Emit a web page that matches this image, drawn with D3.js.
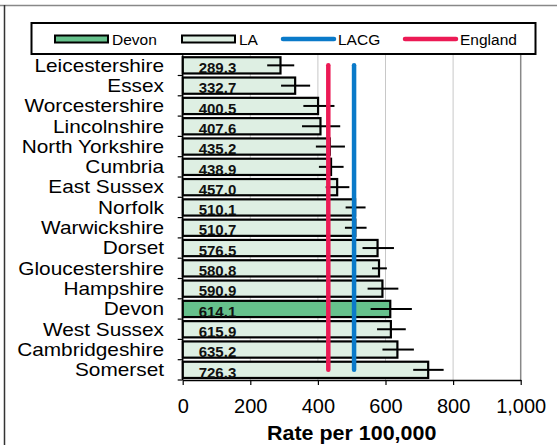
<!DOCTYPE html>
<html>
<head>
<meta charset="utf-8">
<script src="https://cdn.jsdelivr.net/npm/d3@7"></script>
<style>
  html, body { margin: 0; padding: 0; background: #fff; }
  svg { display: block; font-family: "Liberation Sans", Arial, sans-serif; }
</style>
</head>
<body>
<svg id="chart" width="557" height="445"></svg>
<script>
// ---- data ----
const categories = ["Leicestershire","Essex","Worcestershire","Lincolnshire","North Yorkshire","Cumbria","East Sussex","Norfolk","Warwickshire","Dorset","Gloucestershire","Hampshire","Devon","West Sussex","Cambridgeshire","Somerset"];
const values = [289.3,332.7,400.5,407.6,435.2,438.9,457.0,510.1,510.7,576.5,580.8,590.9,614.1,615.9,635.2,726.3];
const ciLower = [250,291,357,353,394,403,423,482,480,532,560,547,556,575,591,682];
const ciUpper = [330,377,449,466,480,476,493,541,544,625,604,638,678,660,684,772];
const highlight = "Devon";
const englandValue = 430.8;
const lacgValue = 507;
const xTicks = [0,200,400,600,800,1000];
const legendItems = ["Devon","LA","LACG","England"];
const xTitle = "Rate per 100,000";

// ---- styles ----
const colDevon = "#66c18c", colLA = "#deefe3", colLACG = "#0a7ac9", colEng = "#ec1a55";

const svg = d3.select("#chart");
const W = 557, H = 445;
const x = d3.scaleLinear().domain([0, 1000]).range([182.7, 520.7]);
const y = d3.scaleBand().domain(categories).range([55.2, 380]).padding(0);
const bw = y.bandwidth();
const barH = bw * 0.8;

// outer frame
svg.append("line").attr("x1", 0).attr("x2", W).attr("y1", 5.5).attr("y2", 5.5).attr("stroke", "#888").attr("stroke-width", 1.5);
svg.append("line").attr("x1", 4.5).attr("x2", 4.5).attr("y1", 5).attr("y2", H).attr("stroke", "#333").attr("stroke-width", 1.5);

// gridlines
svg.append("g").selectAll("line").data(xTicks.filter(t => t > 0 && t < 1000)).join("line")
  .attr("x1", d => x(d)).attr("x2", d => x(d)).attr("y1", 55).attr("y2", 380)
  .attr("stroke", "#c8c8c8").attr("stroke-width", 1);
// plot right border
svg.append("line").attr("x1", x(1000)).attr("x2", x(1000)).attr("y1", 55).attr("y2", 380)
  .attr("stroke", "#888").attr("stroke-width", 1.5);

// bars
const rows = categories.map((c, i) => ({ name: c, v: values[i], lo: ciLower[i], hi: ciUpper[i] }));
svg.append("g").selectAll("rect").data(rows).join("rect")
  .attr("x", x(0)).attr("y", d => y(d.name) + (bw - barH) / 2)
  .attr("width", d => x(d.v) - x(0)).attr("height", barH)
  .attr("fill", d => d.name === highlight ? colDevon : colLA)
  .attr("stroke", "#000").attr("stroke-width", 2.2);

// value labels
svg.append("g").selectAll("text").data(rows).join("text")
  .attr("x", x(0) + 16).attr("y", d => y(d.name) + bw - 2.5)
  .attr("font-size", 15).attr("font-weight", "bold").attr("fill", "#111")
  .text(d => d.v.toFixed(1));

// error bars
svg.append("g").selectAll("line").data(rows).join("line")
  .attr("x1", d => x(d.lo)).attr("x2", d => x(d.hi))
  .attr("y1", d => y(d.name) + bw / 2).attr("y2", d => y(d.name) + bw / 2)
  .attr("stroke", "#000").attr("stroke-width", 2);

// reference lines
const yFirst = y(categories[0]) + bw / 2, yLast = y(categories[categories.length - 1]) + bw / 2;
[[englandValue, colEng], [lacgValue, colLACG]].forEach(([v, c]) => {
  svg.append("line").attr("x1", x(v)).attr("x2", x(v)).attr("y1", yFirst).attr("y2", yLast)
    .attr("stroke", c).attr("stroke-width", 4.5).attr("stroke-linecap", "round");
});

// y axis
const yAxis = svg.append("g");
yAxis.append("line").attr("x1", x(0)).attr("x2", x(0)).attr("y1", 55.2).attr("y2", 380).attr("stroke", "#000").attr("stroke-width", 1.5);
yAxis.selectAll("line.tick").data(categories).join("line").attr("class", "tick")
  .attr("x1", x(0) - 5).attr("x2", x(0)).attr("y1", d => y(d) + bw).attr("y2", d => y(d) + bw)
  .attr("stroke", "#000").attr("stroke-width", 1.2);
yAxis.selectAll("text").data(categories).join("text")
  .attr("x", 164).attr("y", d => y(d) + bw / 2 + 6.3).attr("text-anchor", "end")
  .attr("font-size", 17.8).attr("fill", "#000").text(d => d)
  .each(function () {
    const len = this.getComputedTextLength();
    d3.select(this).attr("textLength", len * 1.17).attr("lengthAdjust", "spacingAndGlyphs");
  });

// x axis
const xAxis = svg.append("g").attr("transform", "translate(0,380)")
  .call(d3.axisBottom(x).tickValues(xTicks).tickFormat(d3.format(",")).tickSize(5).tickSizeOuter(0));
xAxis.select(".domain").attr("stroke", "#000").attr("stroke-width", 1.5);
xAxis.selectAll(".tick line").attr("stroke", "#000").attr("stroke-width", 1.2);
xAxis.selectAll(".tick text").attr("font-size", 20).attr("fill", "#000").attr("dy", null).attr("y", 33)
  .attr("font-family", "'Liberation Sans', Arial, sans-serif");

svg.append("text").attr("x", (x(0) + x(1000)) / 2).attr("y", 440).attr("text-anchor", "middle")
  .attr("font-size", 19.5).attr("font-weight", "bold").text(xTitle)
  .each(function () {
    const len = this.getComputedTextLength();
    d3.select(this).attr("textLength", len * 1.1).attr("lengthAdjust", "spacingAndGlyphs");
  });

// legend
const lg = svg.append("g");
lg.append("rect").attr("x", 31.5).attr("y", 23).attr("width", 504).attr("height", 31)
  .attr("fill", "#fff").attr("stroke", "#000").attr("stroke-width", 2);
const legX = [55, 182, 281, 403];
legendItems.forEach((name, i) => {
  const x0 = legX[i];
  if (i < 2) {
    lg.append("rect").attr("x", x0).attr("y", 35.5).attr("width", 53).attr("height", 7)
      .attr("fill", i === 0 ? colDevon : colLA).attr("stroke", "#000").attr("stroke-width", 2);
  } else {
    lg.append("line").attr("x1", x0 + 2).attr("x2", x0 + 53).attr("y1", 39).attr("y2", 39)
      .attr("stroke", i === 2 ? colLACG : colEng).attr("stroke-width", 4.5).attr("stroke-linecap", "round");
  }
  lg.append("text").attr("x", x0 + 57).attr("y", 44.5).attr("font-size", 15.5).attr("fill", "#000").text(name);
});
</script>
</body>
</html>
